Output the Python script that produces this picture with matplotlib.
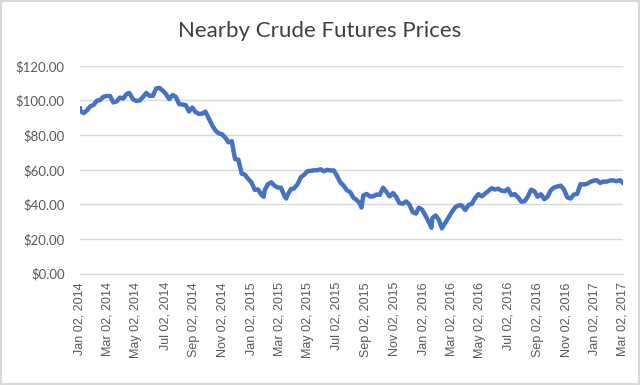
import matplotlib
matplotlib.use("Agg")
import matplotlib.pyplot as plt
import matplotlib.dates as mdates
from matplotlib.ticker import FuncFormatter, MultipleLocator
from matplotlib.patches import Rectangle
import pandas as pd

plt.rcParams['font.family'] = ['Lato', 'DejaVu Sans']

dates_2014 = ["2014-01-02", "2014-01-03", "2014-01-10", "2014-01-17", "2014-01-24", "2014-01-31",
              "2014-02-07", "2014-02-14", "2014-02-21", "2014-02-28", "2014-03-07", "2014-03-14",
              "2014-03-21", "2014-03-28", "2014-04-04", "2014-04-11", "2014-04-17", "2014-04-25",
              "2014-05-02", "2014-05-09", "2014-05-16", "2014-05-23", "2014-05-30", "2014-06-06",
              "2014-06-13", "2014-06-20", "2014-06-27", "2014-07-03", "2014-07-11", "2014-07-18",
              "2014-07-25", "2014-08-01", "2014-08-08", "2014-08-15", "2014-08-22", "2014-08-29",
              "2014-09-05", "2014-09-12", "2014-09-19", "2014-09-26", "2014-10-03", "2014-10-10",
              "2014-10-17", "2014-10-24", "2014-10-31", "2014-11-07", "2014-11-14", "2014-11-21",
              "2014-11-28", "2014-12-05", "2014-12-12", "2014-12-19", "2014-12-26"]
prices_2014 = [95.44, 93.96, 92.72, 94.37, 96.64, 97.49,
               99.88, 100.30, 102.20, 102.59, 102.58, 98.89,
               99.46, 101.67, 101.14, 103.74, 104.30, 100.60,
               99.76, 99.99, 102.02, 104.35, 102.71, 102.66,
               106.91, 107.26, 105.74, 104.06, 100.83, 103.13,
               102.09, 97.88, 97.65, 97.35, 93.65, 95.96,
               93.29, 92.27, 92.41, 93.54, 89.74, 85.82,
               82.75, 81.01, 80.54, 78.65, 75.82, 76.51,
               66.15, 65.84, 57.81, 57.13, 54.73]

dates_2015 = ["2015-01-02", "2015-01-09", "2015-01-16", "2015-01-23", "2015-01-28", "2015-01-30",
              "2015-02-06", "2015-02-13", "2015-02-20", "2015-02-27", "2015-03-06", "2015-03-13",
              "2015-03-17", "2015-03-20", "2015-03-27", "2015-04-02", "2015-04-10", "2015-04-17",
              "2015-04-24", "2015-05-01", "2015-05-08", "2015-05-15", "2015-05-22", "2015-05-29",
              "2015-06-05", "2015-06-12", "2015-06-19", "2015-06-26", "2015-07-02", "2015-07-10",
              "2015-07-17", "2015-07-24", "2015-07-31", "2015-08-07", "2015-08-14", "2015-08-21",
              "2015-08-24", "2015-08-28", "2015-09-04", "2015-09-11", "2015-09-18", "2015-09-25",
              "2015-10-02", "2015-10-09", "2015-10-16", "2015-10-23", "2015-10-30", "2015-11-06",
              "2015-11-13", "2015-11-20", "2015-11-27", "2015-12-04", "2015-12-11", "2015-12-18",
              "2015-12-24", "2015-12-31"]
prices_2015 = [52.69, 48.36, 48.69, 45.59, 44.45, 48.24,
               51.69, 52.78, 50.81, 49.76, 49.61, 44.84,
               43.46, 45.72, 48.87, 49.14, 51.64, 55.74,
               57.15, 59.15, 59.39, 59.69, 59.72, 60.30,
               59.13, 59.96, 59.61, 59.63, 56.93, 52.74,
               50.89, 48.14, 47.12, 43.87, 42.50, 40.45,
               38.24, 45.22, 46.05, 44.63, 44.68, 45.70,
               45.54, 49.63, 47.26, 44.60, 46.59, 44.29,
               40.74, 40.39, 41.71, 39.97, 35.62, 34.73,
               38.10, 37.04]

dates_2016 = ["2016-01-08", "2016-01-15", "2016-01-20", "2016-01-22", "2016-01-29", "2016-02-05",
              "2016-02-11", "2016-02-19", "2016-02-26", "2016-03-04", "2016-03-11", "2016-03-18",
              "2016-03-24", "2016-04-01", "2016-04-08", "2016-04-15", "2016-04-22", "2016-04-29",
              "2016-05-06", "2016-05-13", "2016-05-20", "2016-05-27", "2016-06-03", "2016-06-10",
              "2016-06-17", "2016-06-24", "2016-07-01", "2016-07-08", "2016-07-15", "2016-07-22",
              "2016-07-29", "2016-08-05", "2016-08-12", "2016-08-19", "2016-08-26", "2016-09-02",
              "2016-09-09", "2016-09-16", "2016-09-23", "2016-09-30", "2016-10-07", "2016-10-14",
              "2016-10-21", "2016-10-28", "2016-11-04", "2016-11-11", "2016-11-18", "2016-11-25",
              "2016-12-02", "2016-12-09", "2016-12-16", "2016-12-23", "2016-12-30"]
prices_2016 = [33.16, 29.42, 26.55, 32.19, 33.62, 30.89,
               26.21, 29.64, 32.78, 35.92, 38.50, 39.44,
               39.46, 36.79, 39.72, 40.36, 43.73, 45.92,
               44.66, 46.21, 47.75, 49.33, 48.62, 49.07,
               47.98, 47.64, 48.99, 45.41, 45.95, 44.19,
               41.60, 41.80, 44.49, 48.52, 47.64, 44.44,
               45.88, 43.03, 44.48, 48.24, 49.81, 50.35,
               50.85, 48.70, 44.07, 43.41, 45.69, 46.06,
               51.68, 51.50, 51.90, 53.02, 53.72]

dates_2017 = ["2017-01-06", "2017-01-13", "2017-01-20", "2017-01-27", "2017-02-03", "2017-02-10",
              "2017-02-17", "2017-02-24", "2017-03-02"]
prices_2017 = [53.99, 52.37, 53.22, 53.17, 53.83, 53.86,
               53.40, 53.99, 52.61]

tick_dates = ["2014-01-02", "2014-03-02", "2014-05-02", "2014-07-02", "2014-09-02", "2014-11-02",
              "2015-01-02", "2015-03-02", "2015-05-02", "2015-07-02", "2015-09-02", "2015-11-02",
              "2016-01-02", "2016-03-02", "2016-05-02", "2016-07-02", "2016-09-02", "2016-11-02",
              "2017-01-02", "2017-03-02"]

dates = pd.to_datetime(dates_2014 + dates_2015 + dates_2016 + dates_2017)
prices = prices_2014 + prices_2015 + prices_2016 + prices_2017
ticks = pd.to_datetime(tick_dates)

fig = plt.figure(figsize=(6.4, 3.85), dpi=100)
ax = fig.add_axes([0.125, 0.289, 0.848, 0.540])

ax.plot(dates, prices, color='#4472C4', lw=3.2, solid_joinstyle='round', zorder=3)

ax.set_xlim(ticks[0], ticks[-1])
ax.set_ylim(0, 120)
ax.yaxis.set_major_locator(MultipleLocator(20))
ax.yaxis.set_major_formatter(FuncFormatter(lambda v, p: "${:,.2f}".format(v)))
ax.set_xticks(ticks)
ax.xaxis.set_major_formatter(mdates.DateFormatter("%b %d, %Y"))
ax.tick_params(axis='x', rotation=90, labelsize=9, colors='#595959', length=0, pad=6)
ax.tick_params(axis='y', labelsize=9.5, colors='#595959', length=0, pad=11)
for lab in ax.get_xticklabels():
    lab.set_color('#595959')
    lab.set_family(['Liberation Sans', 'DejaVu Sans'])

ax.grid(axis='y', color='#D9D9D9', lw=1)
ax.set_axisbelow(True)
for s in ['top', 'right', 'left']:
    ax.spines[s].set_visible(False)
ax.spines['bottom'].set_color('#D9D9D9')
ax.spines['bottom'].set_linewidth(1)

fig.text(0.5, 0.92, "Nearby Crude Futures Prices", ha='center', va='center',
         fontsize=16, color='#404040')

fig.add_artist(Rectangle((0.002, 0.003), 0.996, 0.994, transform=fig.transFigure,
                         fill=False, edgecolor='#D9D9D9', lw=1.5))

fig.savefig("out.png", dpi=100, facecolor='white')
